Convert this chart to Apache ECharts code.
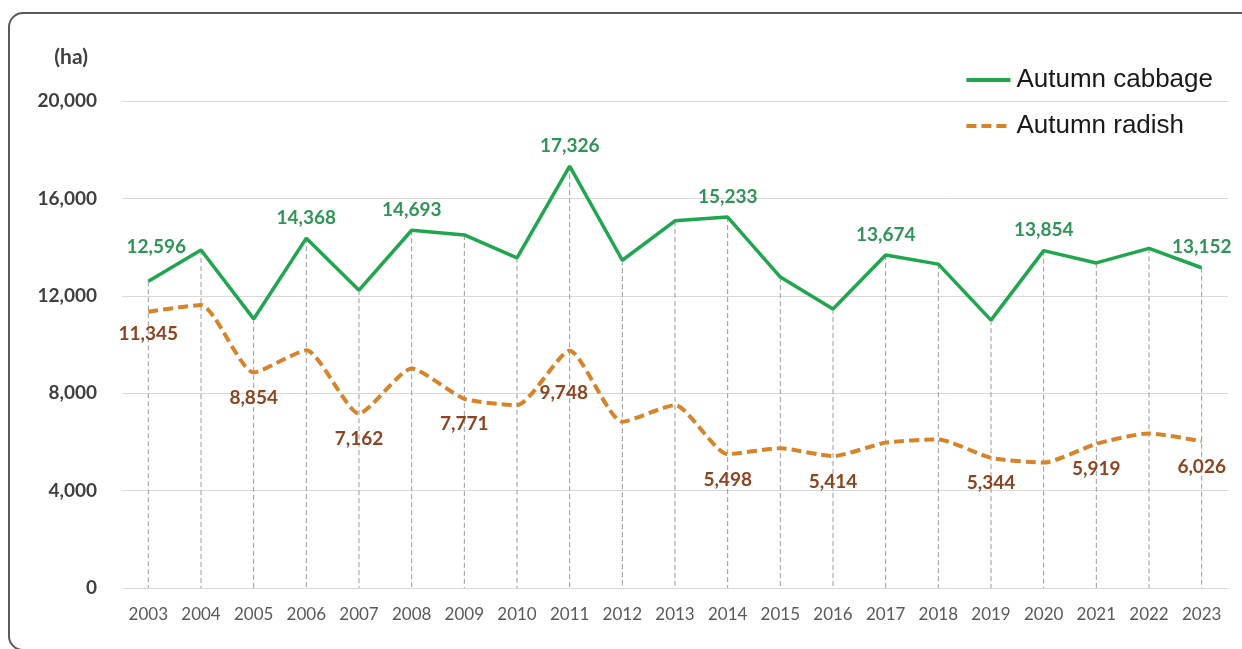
<!DOCTYPE html>
<html>
<head>
<meta charset="utf-8">
<script src="https://cdn.jsdelivr.net/npm/echarts@6/dist/echarts.min.js"></script>
<style>
  html, body { margin: 0; padding: 0; background: #ffffff; }
  #chart { width: 1242px; height: 649px; }
</style>
</head>
<body>
<div id="chart"></div>
<script>
const years = ['2003','2004','2005','2006','2007','2008','2009','2010','2011','2012','2013','2014','2015','2016','2017','2018','2019','2020','2021','2022','2023'];
const cabbage = [12596, 13880, 11050, 14368, 12230, 14693, 14500, 13560, 17326, 13460, 15080, 15233, 12770, 11460, 13674, 13300, 11000, 13854, 13350, 13950, 13152];
const radish = [11345, 11620, 8854, 9760, 7162, 9010, 7771, 7510, 9748, 6830, 7510, 5498, 5740, 5414, 5970, 6100, 5344, 5150, 5919, 6350, 6026];
const cabbageLabelYears = ['2003','2006','2008','2011','2014','2017','2020','2023'];
const radishLabelYears = ['2003','2005','2007','2009','2011','2014','2016','2019','2021','2023'];
const yTicks = [0, 4000, 8000, 12000, 16000, 20000];

const fmt = v => Number(v).toLocaleString('en-US');
const numFont = 'Lato, "Open Sans", sans-serif';

const cabbageData = cabbage.map((v, i) => {
  const item = { value: v };
  if (cabbageLabelYears.includes(years[i])) {
    item.label = { show: true };
    if (years[i] === '2003') item.label.offset = [8, -14];
  }
  return item;
});
const radishData = radish.map((v, i) => {
  const item = { value: v };
  if (radishLabelYears.includes(years[i])) {
    item.label = { show: true };
    if (years[i] === '2003') item.label.offset = [0, -3];
    if (years[i] === '2011') item.label.offset = [-6, 17];
  }
  return item;
});
const dropTops = cabbage.map((v, i) => [i, Math.max(v, radish[i])]);

const chart = echarts.init(document.getElementById('chart'));
chart.setOption({
  backgroundColor: '#ffffff',
  animation: false,
  graphic: [{
    type: 'rect',
    shape: { x: 9, y: 13, width: 1300, height: 637, r: 14 },
    style: { fill: 'none', stroke: '#5a5a5a', lineWidth: 2 },
    silent: true,
    z: 100
  }],
  legend: {
    orient: 'vertical',
    right: 24,
    top: 62,
    itemWidth: 44,
    itemHeight: 14,
    itemGap: 20,
    itemStyle: { opacity: 0 },
    lineStyle: { width: 4 },
    data: ['Autumn cabbage', 'Autumn radish'],
    textStyle: { fontFamily: '"Liberation Sans", Arial, sans-serif', fontSize: 26, color: '#1a1a1a', padding: [0, 0, 0, 1] }
  },
  grid: { left: 122, right: 14, top: 101, bottom: 61, containLabel: false },
  xAxis: {
    type: 'category',
    data: years,
    boundaryGap: true,
    axisLine: { show: true, lineStyle: { color: '#d9d9d9', width: 1 } },
    axisTick: { show: false },
    axisLabel: { fontFamily: numFont, fontSize: 17, color: '#595959', margin: 18 },
    splitLine: { show: false }
  },
  yAxis: {
    type: 'value',
    min: yTicks[0],
    max: yTicks[yTicks.length - 1],
    interval: yTicks[1] - yTicks[0],
    name: '(ha)',
    nameLocation: 'end',
    nameGap: 33,
    nameTextStyle: { fontFamily: numFont, fontWeight: 'bold', fontSize: 21, color: '#404040', align: 'right', padding: [0, 34, 0, 0] },
    axisLine: { show: false },
    axisTick: { show: false },
    axisLabel: { formatter: v => fmt(v), fontFamily: numFont, fontWeight: 'bold', fontSize: 19, color: '#404040', margin: 25 },
    splitLine: { lineStyle: { color: '#d9d9d9', width: 1 } }
  },
  series: [
    {
      type: 'custom',
      name: 'drop',
      silent: true,
      z: 1,
      data: dropTops,
      renderItem: (params, api) => {
        const top = api.coord([api.value(0), api.value(1)]);
        const bottom = api.coord([api.value(0), 0]);
        return {
          type: 'line',
          shape: { x1: top[0], y1: top[1], x2: bottom[0], y2: bottom[1] },
          style: { stroke: '#9a9a9a', lineWidth: 1, lineDash: [5, 3] }
        };
      }
    },
    {
      type: 'line',
      name: 'Autumn cabbage',
      data: cabbageData,
      symbol: 'circle',
      symbolSize: 0,
      showSymbol: true,
      z: 3,
      lineStyle: { color: '#1fa64e', width: 3.5 },
      itemStyle: { color: '#1fa64e' },
      label: {
        show: false,
        position: 'top',
        distance: 11,
        formatter: p => fmt(p.value),
        fontFamily: numFont, fontWeight: 'bold', fontSize: 19, color: '#2f9457'
      }
    },
    {
      type: 'line',
      name: 'Autumn radish',
      data: radishData,
      symbol: 'circle',
      symbolSize: 0,
      showSymbol: true,
      smooth: 0.2,
      z: 2,
      lineStyle: { color: '#d8832a', width: 4, type: [10, 5] },
      itemStyle: { color: '#d8832a' },
      label: {
        show: false,
        position: 'bottom',
        distance: 16,
        formatter: p => fmt(p.value),
        fontFamily: numFont, fontWeight: 'bold', fontSize: 19, color: '#8e4420'
      }
    }
  ]
});
</script>
</body>
</html>
